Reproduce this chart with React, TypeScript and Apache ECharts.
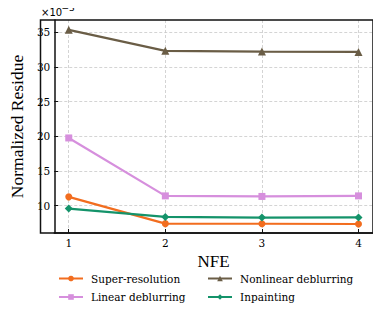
import React, { useEffect, useRef } from "react";
import * as echarts from "echarts";

const nfe = [1, 2, 3, 4];
const superResolution = [11.26, 7.4, 7.38, 7.35];
const linearDeblurring = [19.75, 11.4, 11.32, 11.4];
const nonlinearDeblurring = [35.33, 32.3, 32.2, 32.15];
const inpainting = [9.57, 8.37, 8.27, 8.3];
const xTicks = [1, 2, 3, 4];
const yTicks = [10, 15, 20, 25, 30, 35];

const seriesDefs = [
  { name: "Super-resolution", data: superResolution, color: "#f26d1f", symbol: "circle", size: 7 },
  { name: "Linear deblurring", data: linearDeblurring, color: "#d68fdd", symbol: "rect", size: 7 },
  { name: "Nonlinear deblurring", data: nonlinearDeblurring, color: "#6a5d46", symbol: "triangle", size: 8 },
  { name: "Inpainting", data: inpainting, color: "#14936a", symbol: "diamond", size: 8 },
];

const SERIF = "'DejaVu Serif', 'Liberation Serif', serif";

export default function App() {
  const ref = useRef<HTMLDivElement>(null);
  useEffect(() => {
    if (!ref.current) return;
    const chart = echarts.init(ref.current, undefined, { renderer: "svg" });
    const gridLine = { show: true, lineStyle: { color: "#c9c9c9", type: [3, 2], width: 0.8 } };
    const legendText = { fontFamily: SERIF, fontSize: 10.5, color: "#000", padding: [0, 0, 0, 3] };
    chart.setOption({
      animation: false,
      backgroundColor: "#fff",
      grid: { left: 40.5, right: 8, top: 20, bottom: 80, containLabel: false },
      xAxis: {
        type: "value",
        min: 0.85,
        max: 4.15,
        name: "NFE",
        nameLocation: "middle",
        nameGap: 17,
        nameTextStyle: { fontFamily: "Liberation Serif", fontSize: 17, color: "#000" },
        axisLine: { show: true, onZero: false, lineStyle: { color: "#111", width: 1.5 } },
        axisTick: { show: true, inside: true, length: 4, customValues: xTicks, lineStyle: { color: "#111", width: 1 } },
        axisLabel: { customValues: xTicks, fontFamily: SERIF, fontSize: 10.5, color: "#000", margin: 4 },
        splitLine: gridLine,
      },
      yAxis: {
        type: "value",
        min: 6.05,
        max: 36.75,
        name: "Normalized Residue",
        nameLocation: "middle",
        nameGap: 20,
        nameTextStyle: { fontFamily: "Liberation Serif", fontSize: 17.5, color: "#000" },
        axisLine: { show: true, onZero: false, lineStyle: { color: "#111", width: 1.5 } },
        axisTick: { show: true, inside: true, length: 4, customValues: yTicks, lineStyle: { color: "#111", width: 1 } },
        axisLabel: { customValues: yTicks, fontFamily: SERIF, fontSize: 10.5, color: "#000", margin: 4 },
        splitLine: gridLine,
      },
      graphic: [
        {
          type: "rect",
          shape: { x: 40.5, y: 20, width: 332.5, height: 213 },
          style: { fill: "none", stroke: "#111", lineWidth: 1.5 },
          silent: true,
          z: 10,
        },
        {
          type: "text",
          x: 41,
          y: 7,
          style: { text: "×10", fontFamily: "DejaVu Sans", fontSize: 10, fill: "#000", textVerticalAlign: "top" },
        },
        {
          type: "text",
          x: 61.5,
          y: 3,
          style: { text: "−3", fontFamily: "DejaVu Sans", fontSize: 9, fill: "#000", textVerticalAlign: "top" },
        },
      ],
      legend: [
        {
          data: ["Super-resolution", "Linear deblurring"],
          orient: "vertical",
          left: 53,
          top: 268,
          itemWidth: 24,
          itemHeight: 7,
          itemGap: 7.5,
          textStyle: legendText,
        },
        {
          data: ["Nonlinear deblurring", "Inpainting"],
          orient: "vertical",
          left: 202,
          top: 268,
          itemWidth: 24,
          itemHeight: 7,
          itemGap: 7.5,
          textStyle: legendText,
        },
      ],
      series: seriesDefs.map((s) => ({
        name: s.name,
        type: "line",
        data: nfe.map((x, i) => [x, s.data[i]]),
        symbol: s.symbol,
        symbolSize: s.size,
        showAllSymbol: true,
        itemStyle: { color: s.color },
        lineStyle: { color: s.color, width: 2.2 },
        emphasis: { disabled: true },
      })),
    });
    return () => chart.dispose();
  }, []);
  return <div ref={ref} style={{ width: 381, height: 313, marginLeft: -8, marginTop: -8 }} />;
}
